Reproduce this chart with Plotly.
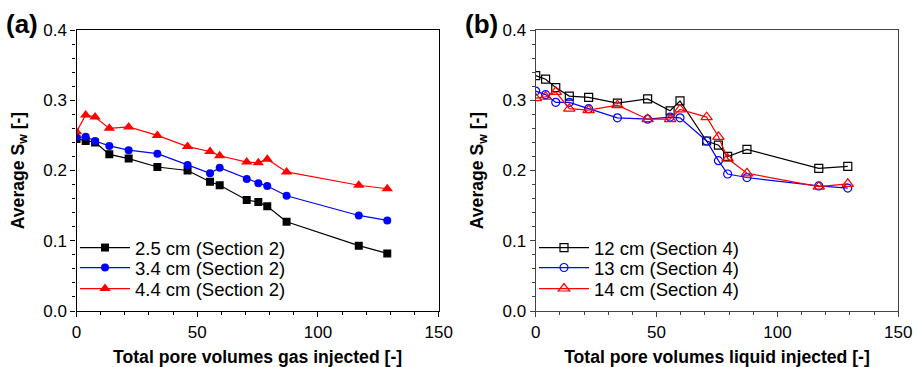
import plotly.graph_objects as go

# ---- data ----
pv_gas = [0, 3.8, 7.7, 13.6, 21.6, 33.5, 46.0, 55.3, 59.3, 70.5, 75.3, 79.0, 87.0, 116.9, 128.7]
sw_25 = [0.245, 0.242, 0.240, 0.223, 0.217, 0.205, 0.200, 0.184, 0.179, 0.158, 0.155, 0.149, 0.127, 0.093, 0.082]
sw_34 = [0.247, 0.248, 0.242, 0.235, 0.229, 0.224, 0.208, 0.196, 0.204, 0.188, 0.182, 0.178, 0.164, 0.136, 0.129]
sw_44 = [0.255, 0.279, 0.276, 0.260, 0.262, 0.250, 0.234, 0.227, 0.221, 0.212, 0.211, 0.216, 0.198, 0.179, 0.174]

pv_liq = [0, 4.1, 8.3, 13.9, 21.9, 33.8, 46.3, 55.6, 59.7, 70.7, 75.6, 79.4, 87.4, 117.1, 129.1]
sw_12 = [0.335, 0.330, 0.318, 0.306, 0.304, 0.296, 0.302, 0.285, 0.299, 0.242, 0.236, 0.220, 0.230, 0.203, 0.206]
sw_13 = [0.313, 0.308, 0.297, 0.297, 0.288, 0.275, 0.273, 0.276, 0.275, 0.242, 0.214, 0.195, 0.190, 0.178, 0.175]
sw_14 = [0.303, 0.305, 0.312, 0.288, 0.286, 0.293, 0.273, 0.273, 0.287, 0.276, 0.248, 0.217, 0.196, 0.177, 0.181]

names_a = ["2.5 cm (Section 2)", "3.4 cm (Section 2)", "4.4 cm (Section 2)"]
names_b = ["12 cm (Section 4)", "13 cm (Section 4)", "14 cm (Section 4)"]

FONT = "Liberation Sans, Arial, sans-serif"
W, H = 917, 367

fig = go.Figure()

# panel (a)
for i, (y, name, col, sym, size) in enumerate([
    (sw_25, names_a[0], "black", "square", 8),
    (sw_34, names_a[1], "#0000FF", "circle", 8),
    (sw_44, names_a[2], "#FF0000", "triangle-up", 10),
]):
    fig.add_trace(go.Scatter(
        x=pv_gas, y=y, name=name, mode="lines+markers",
        line=dict(color=col, width=1.2),
        marker=dict(symbol=sym, size=size, color=col),
        xaxis="x", yaxis="y", legend="legend" if i == 0 else f"legend{i+1}",
    ))

# panel (b)
for i, (y, name, col, sym, size) in enumerate([
    (sw_12, names_b[0], "black", "square-open", 8),
    (sw_13, names_b[1], "#0000FF", "circle-open", 8),
    (sw_14, names_b[2], "#FF0000", "triangle-up-open", 10),
]):
    fig.add_trace(go.Scatter(
        x=pv_liq, y=y, name=name, mode="lines+markers",
        line=dict(color=col, width=1.2),
        marker=dict(symbol=sym, size=size, color=col, line=dict(width=1.2, color=col)),
        xaxis="x2", yaxis="y2", legend=f"legend{i+4}",
    ))

def xax(domain, anchor, title, lc):
    return dict(
        domain=domain, anchor=anchor, range=[0, 150], dtick=50, tick0=0,
        automargin=False,
        showgrid=False, zeroline=False, showline=True, linecolor=lc, linewidth=1.2,
        mirror=True, ticks="outside", ticklen=5, tickcolor=lc, tickwidth=1,
        minor=dict(dtick=10, ticks="outside", ticklen=3, tickcolor=lc, showgrid=False),
        tickfont=dict(family=FONT, size=17, color="black"),
        title=dict(text=title, font=dict(family=FONT, size=17.6, color="black", weight="bold"), standoff=10),
    )

def yax(domain, anchor, lc):
    return dict(
        domain=domain, anchor=anchor, range=[0, 0.4], dtick=0.1, tick0=0,
        tickformat=".1f", automargin=False,
        showgrid=False, zeroline=False, showline=True, linecolor=lc, linewidth=1.2,
        mirror=True, ticks="outside", ticklen=5, tickcolor=lc, tickwidth=1,
        minor=dict(dtick=0.02, ticks="outside", ticklen=3, tickcolor=lc, showgrid=False),
        tickfont=dict(family=FONT, size=17, color="black"),
        title=dict(text="Average S<sub>w</sub> [-]", font=dict(family=FONT, size=17.6, color="black", weight="bold"), standoff=14),
    )

ydom = [56 / H, 337 / H]
legend_rows = [248, 268, 289]
legends = {}
for i, yy in enumerate(legend_rows):
    for k, x0 in [(i + 1, 75), (i + 4, 534)]:
        key = "legend" if k == 1 else f"legend{k}"
        legends[key] = dict(
            x=x0 / W, y=1 - yy / H, xanchor="left", yanchor="middle",
            bgcolor="rgba(0,0,0,0)", font=dict(family=FONT, size=18.5, color="black"),
            itemwidth=50,
        )

fig.update_layout(
    width=W, height=H,
    margin=dict(l=0, r=0, t=0, b=0),
    paper_bgcolor="white", plot_bgcolor="white",
    font=dict(family=FONT, color="black"),
    xaxis=xax([76.5 / W, 438.7 / W], "y", "Total pore volumes gas injected [-]", "black"),
    yaxis=yax(ydom, "x", "black"),
    xaxis2=xax([535.7 / W, 898.3 / W], "y2", "Total pore volumes liquid injected [-]", "#444"),
    yaxis2=yax(ydom, "x2", "#444"),
    showlegend=True,
    annotations=[
        dict(text="<b>(a)</b>", x=4 / W, y=1 - 24 / H, xref="paper", yref="paper",
             xanchor="left", yanchor="middle", showarrow=False,
             font=dict(family=FONT, size=26, color="black")),
        dict(text="<b>(b)</b>", x=463 / W, y=1 - 24 / H, xref="paper", yref="paper",
             xanchor="left", yanchor="middle", showarrow=False,
             font=dict(family=FONT, size=26, color="black")),
    ],
    **legends,
)

fig.write_html(
    "out.html",
    config={"displayModeBar": False},
    post_script="document.body.style.margin='0';document.body.style.padding='0';document.body.style.overflow='hidden';",
)
